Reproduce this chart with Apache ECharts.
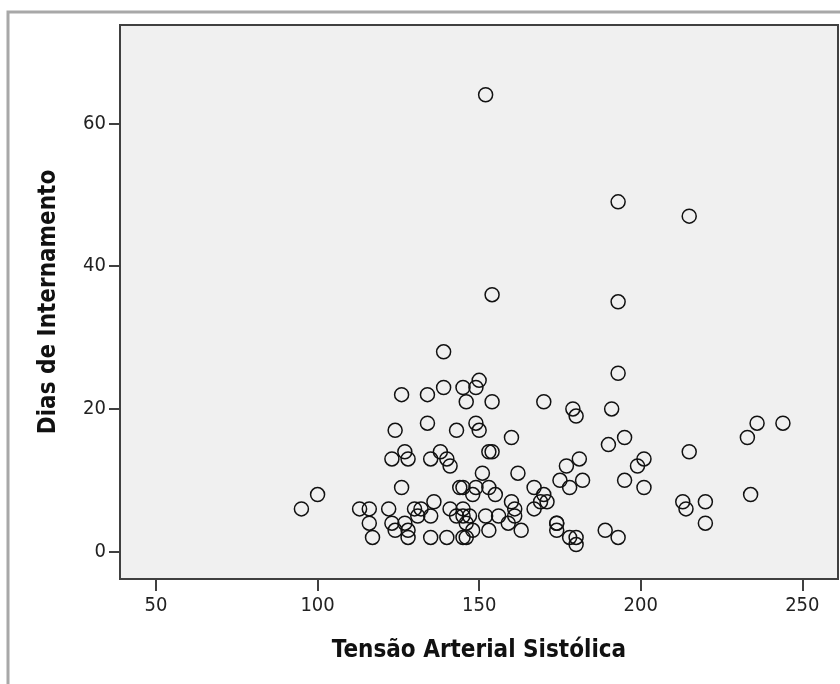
<!DOCTYPE html>
<html>
<head>
<meta charset="utf-8">
<script src="https://cdn.jsdelivr.net/npm/echarts@6/dist/echarts.min.js"></script>
<style>html,body{margin:0;padding:0;background:#fff;}#c{width:840px;height:684px;}</style>
</head>
<body>
<div id="c"></div>
<script>
// Tensão Arterial Sistólica (x) vs Dias de Internamento (y)
const tensao = [95,100,113,116,116,117,122,123,124,127,128,128,126,123,127,128,124,126,134,134,
  130,132,131,135,136,135,140,135,138,140,141,139,145,149,150,146,154,139,143,149,150,153,154,
  141,143,145,145,147,146,145,146,148,144,145,149,148,153,155,151,162,152,153,156,160,161,161,159,163,
  160,170,167,170,169,171,167,174,174,174,175,177,178,181,182,179,180,178,180,180,189,193,
  191,190,195,193,193,193,154,152,199,201,195,201,213,214,220,220,215,215,233,236,244,234];
const dias = [6,8,6,6,4,2,6,4,3,4,3,2,9,13,14,13,17,22,22,18,
  6,6,5,5,7,2,2,13,14,13,12,23,23,23,24,21,21,28,17,18,17,14,14,
  6,5,6,5,5,4,2,2,3,9,9,9,8,9,8,11,11,5,3,5,7,6,5,4,3,
  16,21,9,8,7,7,6,4,4,3,10,12,9,13,10,20,19,2,2,1,3,2,
  20,15,16,25,35,49,36,64,12,13,10,9,7,6,7,4,14,47,16,18,18,8];
const xTicks = [50,100,150,200,250];
const yTicks = [0,20,40,60];

const points = tensao.map((v,i)=>[v,dias[i]]);
const chart = echarts.init(document.getElementById('c'), null, {renderer:'canvas'});
const labelFont = "'DejaVu Sans Condensed','DejaVu Sans',sans-serif";
chart.setOption({
  animation:false,
  backgroundColor:'#ffffff',
  graphic:[{
    type:'rect', z:-10,
    shape:{x:8,y:12,width:860,height:720},
    style:{fill:'#ffffff',stroke:'#a8a8a8',lineWidth:3}
  }],
  grid:{left:120,top:25,right:2,bottom:105,show:true,backgroundColor:'#f0f0f0',borderColor:'#404040',borderWidth:2},
  xAxis:{
    type:'value', min:38.86, max:261.04,
    name:'Tensão Arterial Sistólica', nameLocation:'middle', nameGap:60,
    nameTextStyle:{fontFamily:labelFont,fontWeight:'bold',fontSize:24,color:'#111'},
    axisLine:{show:true,onZero:false,lineStyle:{color:'#404040',width:2}},
    axisTick:{show:true,inside:false,length:12,customValues:xTicks,lineStyle:{color:'#404040',width:2}},
    axisLabel:{customValues:xTicks,margin:17,fontFamily:labelFont,fontSize:20,color:'#222'},
    splitLine:{show:false}
  },
  yAxis:{
    type:'value', min:-3.82, max:73.77,
    name:'Dias de Internamento', nameLocation:'middle', nameGap:59, nameRotate:90,
    nameTextStyle:{fontFamily:labelFont,fontWeight:'bold',fontSize:24,color:'#111'},
    axisLine:{show:true,onZero:false,lineStyle:{color:'#404040',width:2}},
    axisTick:{show:true,inside:false,length:11,customValues:yTicks,lineStyle:{color:'#404040',width:2}},
    axisLabel:{customValues:yTicks,margin:14,fontFamily:labelFont,fontSize:20,color:'#222'},
    splitLine:{show:false}
  },
  series:[{
    type:'scatter',
    data:points,
    symbol:'circle',
    symbolSize:14,
    itemStyle:{color:'rgba(0,0,0,0)',borderColor:'#111',borderWidth:1.5,opacity:1},
    emphasis:{disabled:true}
  }]
});
</script>
</body>
</html>
